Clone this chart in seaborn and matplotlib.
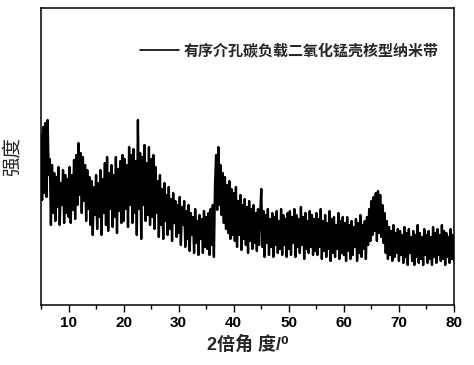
import numpy as np
import pandas as pd
import matplotlib
matplotlib.use("Agg")
import matplotlib.pyplot as plt
import seaborn as sns
from matplotlib.ticker import MultipleLocator

# 2theta start/step (degrees) and hand-read intensities (arbitrary units)
theta_start = 5.0
theta_step = 0.2
seg_05_10 = [170, 105, 178, 112, 182, 108, 185, 130, 146, 80, 140, 92, 132, 84, 128, 98, 138, 80, 122, 100, 135, 82, 130, 92, 126]
seg_10_15 = [88, 138, 82, 130, 95, 145, 86, 150, 100, 162, 110, 152, 92, 148, 104, 140, 84, 135, 96, 128, 80, 124, 70, 118, 90]
seg_15_20 = [130, 76, 122, 88, 135, 70, 126, 92, 142, 80, 148, 74, 132, 96, 140, 78, 130, 88, 148, 72, 136, 94, 144, 82, 150]
seg_20_25 = [84, 146, 96, 140, 78, 158, 100, 150, 82, 156, 92, 144, 70, 185, 96, 152, 66, 148, 100, 160, 84, 142, 90, 158, 80]
seg_25_30 = [146, 88, 150, 76, 138, 92, 124, 68, 130, 80, 116, 66, 122, 84, 110, 70, 118, 76, 106, 64, 112, 82, 104, 68, 100]
seg_30_35 = [72, 108, 60, 98, 80, 104, 58, 94, 66, 100, 54, 92, 70, 88, 52, 96, 62, 84, 50, 90, 66, 86, 52, 94, 58]
seg_35_40 = [88, 56, 92, 50, 96, 60, 100, 48, 120, 150, 95, 158, 100, 140, 90, 132, 82, 128, 76, 120, 72, 124, 66, 116, 70]
seg_40_45 = [112, 64, 118, 58, 104, 70, 110, 55, 100, 66, 106, 60, 98, 52, 104, 64, 96, 56, 100, 62, 92, 54, 96, 60, 90]
seg_45_50 = [116, 58, 94, 48, 90, 62, 96, 50, 86, 58, 92, 48, 88, 60, 94, 52, 84, 56, 96, 50, 90, 60, 86, 48, 92]
seg_50_55 = [56, 94, 50, 88, 62, 96, 48, 90, 58, 86, 52, 98, 60, 88, 46, 92, 56, 84, 52, 94, 58, 90, 50, 86, 54]
seg_55_60 = [92, 50, 86, 58, 96, 46, 84, 54, 90, 48, 82, 56, 94, 44, 86, 52, 88, 48, 80, 56, 92, 46, 84, 52, 88]
seg_60_65 = [50, 82, 44, 88, 54, 80, 46, 84, 50, 78, 58, 86, 44, 82, 52, 90, 48, 80, 56, 84, 46, 88, 60, 96, 64]
seg_65_70 = [104, 70, 108, 74, 112, 64, 114, 72, 110, 68, 100, 62, 92, 52, 84, 46, 78, 50, 74, 44, 80, 48, 72, 52, 76]
seg_70_75 = [44, 74, 50, 70, 42, 78, 48, 72, 40, 76, 52, 68, 44, 74, 40, 70, 48, 80, 42, 72, 46, 68, 40, 76, 50]
seg_75_80 = [70, 42, 74, 46, 68, 40, 78, 48, 72, 42, 76, 50, 70, 44, 80, 46, 74, 40, 72, 48, 68, 42, 76, 46, 70, 44]

x_ticks = [10, 20, 30, 40, 50, 60, 70, 80]
legend_label = "有序介孔碳负载二氧化锰壳核型纳米带"
x_label = "2倍角 度/⁰"
y_label = "强度"

intensity = (seg_05_10 + seg_10_15 + seg_15_20 + seg_20_25 + seg_25_30 + seg_30_35
             + seg_35_40 + seg_40_45 + seg_45_50 + seg_50_55 + seg_55_60 + seg_60_65
             + seg_65_70 + seg_70_75 + seg_75_80)
theta = theta_start + theta_step * np.arange(len(intensity))
df = pd.DataFrame({"theta": theta, "intensity": intensity, "series": legend_label})

sns.set_theme(style="ticks")
plt.rcParams["font.family"] = ["Liberation Sans", "Noto Sans CJK SC", "DejaVu Sans"]

fig = plt.figure(figsize=(4.74, 3.65), dpi=100)
ax = fig.add_axes([41 / 474, 1 - 305 / 365, 413 / 474, 297 / 365])

sns.lineplot(data=df, x="theta", y="intensity", hue="series", palette=["black"],
             estimator=None, sort=False, linewidth=1.7, ax=ax)

ax.set_xlim(5, 80)
ax.set_ylim(0, 297)
ax.set_xticks(x_ticks)
ax.xaxis.set_minor_locator(MultipleLocator(5))
ax.set_yticks([])
ax.tick_params(axis="x", which="major", direction="out", length=5, width=1, colors="black",
               labelsize=11, pad=3)
ax.tick_params(axis="x", which="minor", direction="out", length=3, width=1, colors="black")
for lab in ax.get_xticklabels():
    lab.set_fontweight("bold")
for sp in ax.spines.values():
    sp.set_visible(True)
    sp.set_linewidth(1.1)
    sp.set_color("black")

ax.set_xlabel(x_label, fontsize=13, fontweight="bold", labelpad=4)
ax.set_ylabel(y_label, fontsize=14, family=["Noto Sans CJK SC", "DejaVu Sans"])
ax.yaxis.set_label_coords(-18 / 413, 0.5)

leg = ax.legend(loc="center right", bbox_to_anchor=(0.962, 0.858), frameon=False,
                borderpad=0, borderaxespad=0, handlelength=2.6, handletextpad=0.3,
                prop={"family": ["Noto Sans CJK SC", "DejaVu Sans"], "size": 10.8, "weight": "bold"})
for line in leg.get_lines():
    line.set_linewidth(1.2)

fig.savefig("out.png", dpi=100)
